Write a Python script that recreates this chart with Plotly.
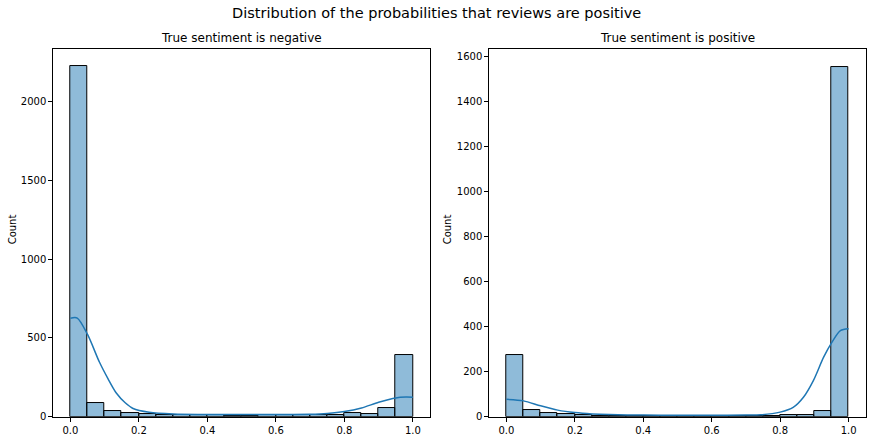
import plotly.graph_objects as go

# bin centres (bin width 0.05) and counts
bin_centres = [0.025, 0.075, 0.125, 0.175, 0.225, 0.275, 0.325, 0.375, 0.425, 0.475,
               0.525, 0.575, 0.625, 0.675, 0.725, 0.775, 0.825, 0.875, 0.925, 0.975]
neg_counts = [2223, 88, 37, 24, 17, 13, 11, 8, 8, 7,
              7, 8, 8, 9, 10, 13, 25, 17, 55, 394]
pos_counts = [274, 30, 15, 12, 7, 4, 3, 3, 3, 3,
              2, 3, 3, 3, 4, 4, 7, 7, 27, 1554]

# kde curves (scaled to counts), sampled by eye
neg_kde_x = [0, 0.02, 0.05, 0.085, 0.11, 0.134, 0.16, 0.183, 0.23, 0.3, 0.4,
             0.5, 0.6, 0.7, 0.75, 0.8, 0.85, 0.9, 0.95, 0.98, 1.0]
neg_kde_y = [625, 626, 522, 345, 240, 150, 88, 52, 28, 17, 14,
             14, 14, 15, 20, 32, 55, 91, 119, 124, 123]
pos_kde_x = [0, 0.05, 0.1, 0.15, 0.2, 0.25, 0.3, 0.4, 0.5, 0.6, 0.7, 0.743,
             0.8, 0.838, 0.868, 0.897, 0.927, 0.951, 0.976, 1.0]
pos_kde_y = [77, 70, 48, 29, 18, 12, 9, 7, 6, 6, 7, 8,
             20, 41, 86, 160, 264, 330, 382, 390]

x_ticks = [0.0, 0.2, 0.4, 0.6, 0.8, 1.0]
neg_y_ticks = [0, 500, 1000, 1500, 2000]
pos_y_ticks = [0, 200, 400, 600, 800, 1000, 1200, 1400, 1600]

bar_fill = "rgba(31,119,180,0.5)"
line_col = "#1f77b4"

fig = go.Figure()
fig.add_trace(go.Bar(x=bin_centres, y=neg_counts, width=0.05, marker=dict(color=bar_fill,
              line=dict(color="black", width=1)), xaxis="x", yaxis="y", hoverinfo="skip"))
fig.add_trace(go.Scatter(x=neg_kde_x, y=neg_kde_y, mode="lines", line=dict(color=line_col, width=1.5,
              shape="spline", smoothing=0.8), xaxis="x", yaxis="y"))
fig.add_trace(go.Bar(x=bin_centres, y=pos_counts, width=0.05, marker=dict(color=bar_fill,
              line=dict(color="black", width=1)), xaxis="x2", yaxis="y2", hoverinfo="skip"))
fig.add_trace(go.Scatter(x=pos_kde_x, y=pos_kde_y, mode="lines", line=dict(color=line_col, width=1.5,
              shape="spline", smoothing=0.8), xaxis="x2", yaxis="y2"))

ax = dict(showline=True, mirror=True, linecolor="black", linewidth=1, showgrid=False, zeroline=False,
          ticks="outside", ticklen=4, tickcolor="black", tickfont=dict(size=10, color="black"))


def label(text, x, y, size, angle=0):
    # place text by pixel position in the 872x440 figure
    return dict(text=text, x=x / 872, y=1 - y / 440, xref="paper", yref="paper",
                xanchor="center", yanchor="middle", showarrow=False, textangle=angle,
                font=dict(size=size))


fig.update_layout(
    width=872, height=440,
    margin=dict(l=0, r=0, t=0, b=0),
    paper_bgcolor="white", plot_bgcolor="white",
    showlegend=False, bargap=0,
    font=dict(family="DejaVu Sans", color="black"),
    xaxis=dict(ax, domain=[0.0611, 0.4931], range=[-0.05, 1.05], tickvals=x_ticks, tickformat=".1f"),
    yaxis=dict(ax, domain=[0.04, 0.887], range=[0, 2334], tickvals=neg_y_ticks),
    xaxis2=dict(ax, domain=[0.5611, 0.9928], range=[-0.05, 1.05], tickvals=x_ticks, tickformat=".1f",
                anchor="y2"),
    yaxis2=dict(ax, domain=[0.04, 0.887], range=[0, 1632], tickvals=pos_y_ticks, anchor="x2"),
    annotations=[
        label("Distribution of the probabilities that reviews are positive", 436, 13, 14.5),
        label("True sentiment is negative", (53.3 + 430) / 2, 39, 12),
        label("True sentiment is positive", (489.3 + 865.7) / 2, 39, 12),
        label("Count", 12, 232.5, 10, -90),
        label("Count", 447, 232.5, 10, -90),
    ],
)

fig.write_html("out.html", config={"displayModeBar": False},
               post_script="document.body.style.margin='0';")
